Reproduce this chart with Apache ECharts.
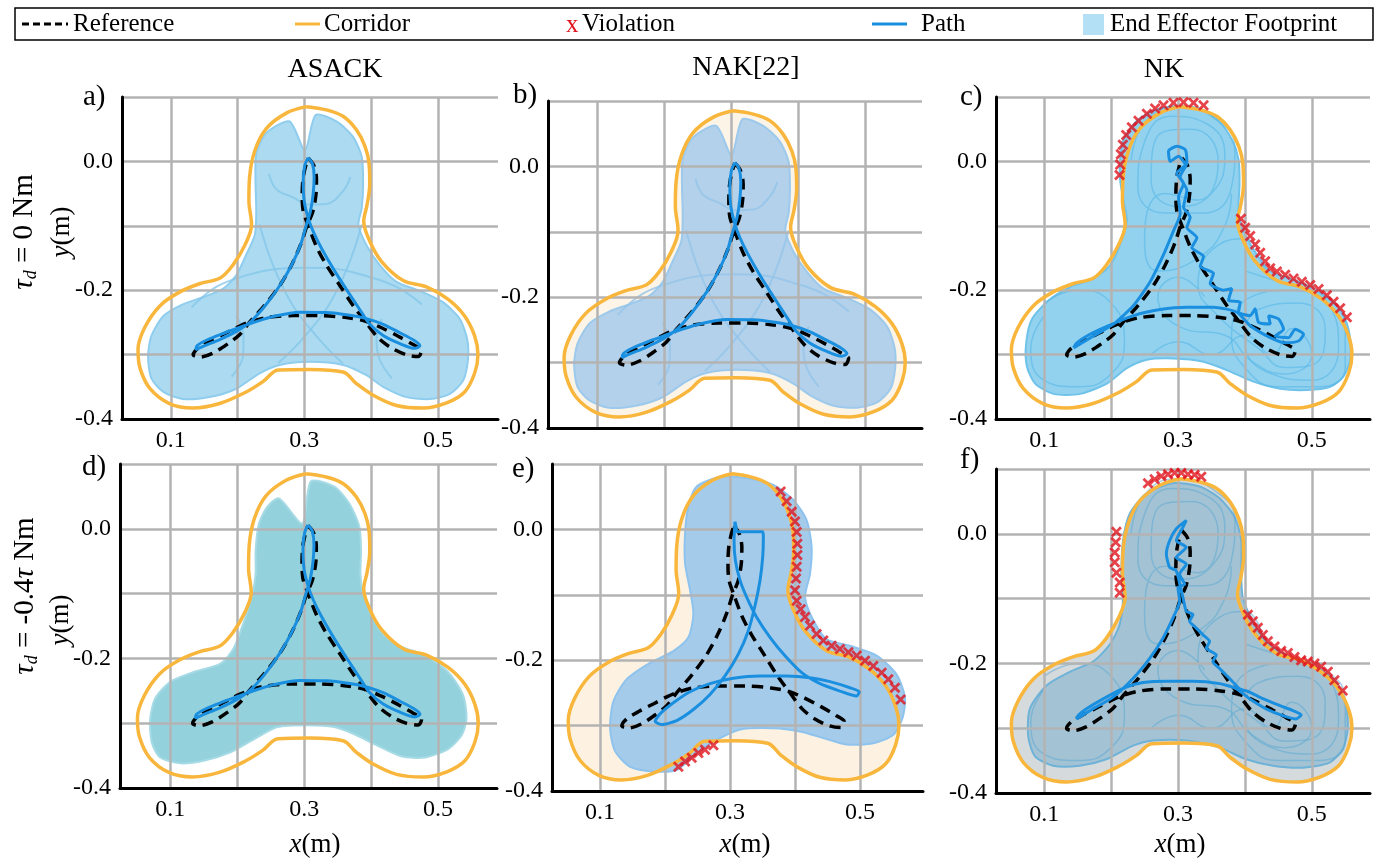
<!DOCTYPE html>
<html>
<head>
<meta charset="utf-8">
<script src="https://cdn.jsdelivr.net/npm/echarts@6/dist/echarts.min.js"></script>
<style>
  html, body { margin: 0; padding: 0; background: #fff; }
  #chart { width: 1380px; height: 858px; }
</style>
</head>
<body>
<div id="chart"></div>
<script>
// ---- data (metres) ----
var corridor = [
  [0.303,0.085],[0.333,0.080],[0.358,0.070],[0.378,0.049],[0.391,0.023],[0.397,-0.004],
  [0.398,-0.035],[0.394,-0.067],[0.389,-0.093],[0.398,-0.124],[0.416,-0.156],[0.448,-0.185],
  [0.483,-0.195],[0.515,-0.214],[0.540,-0.240],[0.555,-0.271],[0.560,-0.300],[0.555,-0.329],
  [0.540,-0.358],[0.513,-0.375],[0.478,-0.383],[0.438,-0.379],[0.403,-0.363],[0.378,-0.345],
  [0.358,-0.327],[0.308,-0.323],[0.261,-0.324],[0.238,-0.342],[0.213,-0.358],[0.173,-0.376],
  [0.133,-0.383],[0.098,-0.376],[0.069,-0.353],[0.054,-0.321],[0.051,-0.292],[0.061,-0.258],
  [0.084,-0.224],[0.113,-0.203],[0.143,-0.190],[0.174,-0.181],[0.193,-0.161],[0.211,-0.130],
  [0.221,-0.098],[0.217,-0.061],[0.218,-0.025],[0.226,0.017],[0.243,0.051],[0.273,0.075],
  [0.303,0.085]
];

var reference = [
  [0.3057,0.0052],[0.3142,-0.0063],[0.3182,-0.0273],[0.3172,-0.0535],[0.3122,-0.0798],
  [0.3042,-0.0992],[0.2943,-0.1297],[0.2808,-0.1612],[0.2633,-0.1927],[0.2408,-0.2231],
  [0.2183,-0.2493],[0.2034,-0.2688],[0.1859,-0.2829],[0.1634,-0.2976],[0.1434,-0.3039],
  [0.1335,-0.3003],[0.1409,-0.2898],[0.1609,-0.2777],[0.1834,-0.2661],[0.2034,-0.2556],
  [0.2183,-0.2493],[0.2433,-0.2425],[0.2833,-0.2394],[0.3232,-0.2394],[0.3632,-0.2425],
  [0.3906,-0.2478],[0.4156,-0.2583],[0.4406,-0.2714],[0.4630,-0.2845],[0.4755,-0.2934],
  [0.4705,-0.3029],[0.4531,-0.3003],[0.4306,-0.2898],[0.4106,-0.2740],[0.3906,-0.2478],
  [0.3732,-0.2241],[0.3532,-0.1927],[0.3332,-0.1612],[0.3182,-0.1323],[0.3057,-0.0992],
  [0.2983,-0.0772],[0.2968,-0.0509],[0.2983,-0.0247],[0.3022,-0.0063],[0.3057,0.0052]
];

// path of the well-behaved controllers (a, b, d)
var pathGood = [
  [0.3057,0.0058],[0.3122,-0.0037],[0.3147,-0.0247],[0.3132,-0.0509],[0.3092,-0.0772],
  [0.3032,-0.0982],[0.2943,-0.1297],[0.2808,-0.1612],[0.2633,-0.1927],[0.2433,-0.2215],
  [0.2208,-0.2478],[0.1984,-0.2640],[0.1734,-0.2766],[0.1484,-0.2871],[0.1375,-0.2924],
  [0.1395,-0.2861],[0.1534,-0.2777],[0.1784,-0.2672],[0.2034,-0.2577],[0.2233,-0.2504],
  [0.2533,-0.2409],[0.2933,-0.2341],[0.3332,-0.2346],[0.3682,-0.2388],[0.3931,-0.2441],
  [0.4181,-0.2530],[0.4431,-0.2661],[0.4640,-0.2777],[0.4730,-0.2861],[0.4655,-0.2903],
  [0.4431,-0.2829],[0.4181,-0.2703],[0.3981,-0.2530],[0.3832,-0.2304],[0.3632,-0.1990],
  [0.3432,-0.1664],[0.3257,-0.1349],[0.3132,-0.1087],[0.3057,-0.0877],[0.2998,-0.0614],
  [0.2983,-0.0299],[0.3007,-0.0063],[0.3057,0.0058]
];

var pathC = [
  [0.1438,-0.2895],[0.1737,-0.2711],[0.2036,-0.2526],[0.2335,-0.2237],[0.2584,-0.1868],
  [0.2784,-0.1447],[0.2933,-0.1079],[0.3033,-0.0816],[0.3008,-0.0553],[0.3083,-0.0342],
  [0.2983,-0.0184],[0.3108,-0.0053],[0.3008,0.0079],[0.2883,0.0000],[0.2858,0.0158],
  [0.2983,0.0237],[0.3108,0.0184],[0.3133,-0.0026],[0.3033,-0.0237],[0.3133,-0.0447],
  [0.3083,-0.0711],[0.3182,-0.0868],[0.3133,-0.1026],[0.3282,-0.1184],[0.3207,-0.1342],
  [0.3382,-0.1474],[0.3332,-0.1632],[0.3531,-0.1737],[0.3481,-0.1895],[0.3681,-0.2000],
  [0.3806,-0.1974],[0.3756,-0.2158],[0.3930,-0.2184],[0.3905,-0.2342],[0.4080,-0.2395],
  [0.4154,-0.2289],[0.4204,-0.2500],[0.4379,-0.2526],[0.4354,-0.2395],[0.4503,-0.2447],
  [0.4578,-0.2605],[0.4453,-0.2711],[0.4653,-0.2737],[0.4752,-0.2605],[0.4877,-0.2684],
  [0.4802,-0.2789],[0.4603,-0.2816],[0.4379,-0.2737],[0.4080,-0.2553],[0.3880,-0.2342],
  [0.3531,-0.2263],[0.3133,-0.2263],[0.2734,-0.2300],[0.2335,-0.2395],[0.1937,-0.2563],
  [0.1638,-0.2711],[0.1488,-0.2816],[0.1438,-0.2895]
];

var pathE = [
  [0.3077,0.0118],[0.3062,-0.0164],[0.3082,-0.0472],[0.3154,-0.0779],[0.3256,-0.1036],
  [0.3410,-0.1344],[0.3615,-0.1651],[0.3846,-0.1933],[0.4103,-0.2190],[0.4385,-0.2359],
  [0.4692,-0.2472],[0.4949,-0.2549],[0.4990,-0.2482],[0.4846,-0.2421],[0.4538,-0.2328],
  [0.4231,-0.2267],[0.3872,-0.2241],[0.3462,-0.2241],[0.3051,-0.2277],[0.2692,-0.2359],
  [0.2385,-0.2482],[0.2128,-0.2651],[0.1923,-0.2821],[0.1846,-0.2933],[0.1949,-0.2985],
  [0.2179,-0.2923],[0.2436,-0.2754],[0.2692,-0.2523],[0.2923,-0.2241],[0.3128,-0.1908],
  [0.3282,-0.1549],[0.3385,-0.1164],[0.3462,-0.0779],[0.3503,-0.0421],[0.3513,-0.0113],
  [0.3503,-0.0036],[0.3256,-0.0036],[0.3113,-0.0036],[0.3092,0.0041],[0.3077,0.0118]
];

var pathF = [
  [0.1483,-0.2857],[0.1731,-0.2701],[0.2030,-0.2520],[0.2328,-0.2234],[0.2577,-0.1922],
  [0.2776,-0.1610],[0.2925,-0.1299],[0.3025,-0.1039],[0.3000,-0.0831],[0.3099,-0.0779],
  [0.3025,-0.0623],[0.3124,-0.0468],[0.2975,-0.0364],[0.3124,-0.0208],[0.2975,-0.0104],
  [0.3075,0.0104],[0.3124,0.0208],[0.2975,0.0078],[0.2876,-0.0104],[0.2826,-0.0312],
  [0.2876,-0.0519],[0.2975,-0.0571],[0.3075,-0.0987],[0.3124,-0.1195],[0.3224,-0.1247],
  [0.3174,-0.1351],[0.3274,-0.1455],[0.3373,-0.1558],[0.3473,-0.1662],[0.3423,-0.1766],
  [0.3572,-0.1870],[0.3522,-0.1974],[0.3622,-0.2078],[0.3721,-0.2182],[0.3821,-0.2286],
  [0.3920,-0.2390],[0.4070,-0.2442],[0.4269,-0.2545],[0.4517,-0.2649],[0.4716,-0.2727],
  [0.4841,-0.2795],[0.4766,-0.2857],[0.4567,-0.2805],[0.4318,-0.2701],[0.4070,-0.2545],
  [0.3871,-0.2390],[0.3622,-0.2312],[0.3224,-0.2275],[0.2826,-0.2275],[0.2478,-0.2296],
  [0.2229,-0.2364],[0.1930,-0.2520],[0.1632,-0.2701],[0.1507,-0.2805],[0.1483,-0.2857]
];

// end effector footprints
var footGood = [
  [0.278,0.062],[0.301,0.017],[0.317,0.072],[0.348,0.062],[0.373,0.038],[0.386,0.007],
  [0.388,-0.035],[0.386,-0.072],[0.381,-0.098],[0.393,-0.130],[0.413,-0.161],[0.438,-0.187],
  [0.473,-0.201],[0.508,-0.219],[0.533,-0.245],[0.544,-0.277],[0.545,-0.308],[0.538,-0.340],
  [0.518,-0.361],[0.488,-0.369],[0.453,-0.366],[0.418,-0.350],[0.393,-0.332],[0.358,-0.316],
  [0.308,-0.311],[0.263,-0.316],[0.233,-0.329],[0.198,-0.353],[0.158,-0.366],[0.118,-0.369],
  [0.089,-0.358],[0.071,-0.337],[0.066,-0.303],[0.071,-0.271],[0.089,-0.240],[0.118,-0.222],
  [0.148,-0.211],[0.178,-0.198],[0.198,-0.177],[0.213,-0.145],[0.226,-0.114],[0.228,-0.077],
  [0.227,-0.035],[0.228,0.012],[0.243,0.044]
];

var footD = [
  [0.2625,0.047],[0.2975,0.008],[0.310,0.073],[0.345,0.065],[0.3675,0.039],[0.3825,0.003],
  [0.385,-0.034],[0.384,-0.070],[0.3875,-0.096],[0.400,-0.132],[0.420,-0.164],[0.445,-0.182],
  [0.480,-0.195],[0.515,-0.221],[0.5375,-0.257],[0.5425,-0.294],[0.535,-0.319],[0.515,-0.340],
  [0.480,-0.353],[0.445,-0.351],[0.410,-0.335],[0.375,-0.317],[0.345,-0.306],[0.305,-0.303],
  [0.260,-0.306],[0.225,-0.325],[0.190,-0.345],[0.150,-0.358],[0.115,-0.362],[0.085,-0.353],
  [0.0725,-0.330],[0.070,-0.294],[0.0775,-0.262],[0.100,-0.236],[0.135,-0.221],[0.175,-0.208],
  [0.195,-0.184],[0.210,-0.143],[0.2225,-0.101],[0.2275,-0.070],[0.2275,-0.034],[0.2325,0.008],
  [0.245,0.034]
];

var footC = [
  [0.2136,-0.029],[0.2136,0.003],[0.2186,0.034],[0.2385,0.063],[0.2634,0.079],[0.2983,0.086],
  [0.3332,0.082],[0.3606,0.063],[0.3805,0.034],[0.3905,0.003],[0.3920,-0.034],[0.3905,-0.082],
  [0.4004,-0.113],[0.4179,-0.145],[0.4378,-0.171],[0.4677,-0.182],[0.5026,-0.197],[0.5325,-0.218],
  [0.5499,-0.245],[0.5574,-0.276],[0.5574,-0.308],[0.5474,-0.334],[0.5275,-0.350],[0.4926,-0.355],
  [0.4528,-0.353],[0.4129,-0.342],[0.3730,-0.324],[0.3382,-0.311],[0.2933,-0.306],[0.2535,-0.308],
  [0.2236,-0.321],[0.1937,-0.345],[0.1538,-0.361],[0.1140,-0.361],[0.0865,-0.345],[0.0741,-0.318],
  [0.0731,-0.282],[0.0816,-0.245],[0.1065,-0.216],[0.1389,-0.195],[0.1737,-0.182],[0.1987,-0.161],
  [0.2136,-0.129],[0.2236,-0.092],[0.2186,-0.061]
];

var footE = [
  [0.2487,0.0656],[0.2846,0.080],[0.3256,0.0785],[0.3667,0.068],[0.3974,0.045],[0.4179,0.014],
  [0.4256,-0.027],[0.4231,-0.068],[0.4154,-0.104],[0.4282,-0.139],[0.4487,-0.168],[0.4846,-0.178],
  [0.5256,-0.193],[0.5564,-0.222],[0.5692,-0.257],[0.5656,-0.288],[0.5513,-0.314],[0.5205,-0.327],
  [0.4795,-0.329],[0.4436,-0.319],[0.4077,-0.309],[0.3667,-0.304],[0.3154,-0.306],[0.2795,-0.322],
  [0.2487,-0.342],[0.2179,-0.368],[0.1821,-0.370],[0.1462,-0.363],[0.1231,-0.339],[0.1154,-0.304],
  [0.1205,-0.263],[0.1410,-0.229],[0.1769,-0.204],[0.2128,-0.186],[0.2359,-0.165],[0.2436,-0.129],
  [0.2385,-0.093],[0.2308,-0.052],[0.2308,-0.006],[0.2359,0.035]
];

var footF = [
  [0.2179,-0.0987],[0.2154,-0.062],[0.2179,-0.010],[0.2279,0.031],[0.2527,0.062],[0.2925,0.078],
  [0.3323,0.073],[0.3622,0.055],[0.3846,0.026],[0.3945,-0.010],[0.3945,-0.062],[0.3970,-0.099],
  [0.4119,-0.135],[0.4318,-0.166],[0.4617,-0.187],[0.5015,-0.203],[0.5363,-0.229],[0.5512,-0.265],
  [0.5537,-0.301],[0.5463,-0.332],[0.5264,-0.353],[0.4866,-0.361],[0.4418,-0.358],[0.4020,-0.348],
  [0.3622,-0.330],[0.3124,-0.319],[0.2627,-0.319],[0.2328,-0.327],[0.1930,-0.348],[0.1532,-0.358],
  [0.1134,-0.358],[0.0861,-0.343],[0.0761,-0.312],[0.0786,-0.270],[0.1035,-0.234],[0.1383,-0.213],
  [0.1731,-0.197],[0.1980,-0.171],[0.2129,-0.140]
];

// faint inner edges of the footprint (a, b)
var footEdges = [
  [[0.131,-0.227],[0.168,-0.195],[0.213,-0.177],[0.258,-0.167],[0.303,-0.165],[0.348,-0.167],[0.393,-0.178],[0.438,-0.195],[0.476,-0.222]],
  [[0.198,-0.240],[0.209,-0.271],[0.208,-0.303],[0.191,-0.334]],
  [[0.416,-0.245],[0.408,-0.277],[0.413,-0.308],[0.431,-0.337]],
  [[0.247,-0.019],[0.258,-0.043],[0.283,-0.056],[0.306,-0.067],[0.333,-0.066],[0.358,-0.046],[0.369,-0.024]],
  [[0.233,-0.098],[0.253,-0.161],[0.283,-0.224],[0.323,-0.277],[0.358,-0.314]],
  [[0.386,-0.098],[0.366,-0.161],[0.336,-0.224],[0.296,-0.277],[0.261,-0.313]]
];

// scribbled footprint traces of the NK runs (c, f)
var scribbles = [
  [[0.23,0.00],[0.25,0.06],[0.30,0.085],[0.35,0.07],[0.385,0.02],[0.38,-0.04],[0.34,-0.08],[0.28,-0.08],
   [0.24,-0.04],[0.25,0.03],[0.29,0.07],[0.34,0.06],[0.37,0.01],[0.35,-0.05],[0.30,-0.07],[0.26,-0.03],
   [0.27,0.04],[0.32,0.05],[0.36,0.00],[0.33,-0.06],[0.28,-0.05],[0.25,-0.12],[0.27,-0.17],[0.33,-0.15],
   [0.37,-0.10],[0.38,-0.05]],
  [[0.40,-0.17],[0.46,-0.19],[0.52,-0.21],[0.55,-0.26],[0.55,-0.32],[0.51,-0.35],[0.45,-0.35],[0.40,-0.32],
   [0.38,-0.27],[0.41,-0.21],[0.47,-0.20],[0.53,-0.23],[0.54,-0.29],[0.50,-0.34],[0.44,-0.33],[0.40,-0.28],
   [0.42,-0.23],[0.48,-0.22],[0.52,-0.26],[0.51,-0.31],[0.46,-0.32],[0.42,-0.29],[0.36,-0.24],[0.33,-0.19],
   [0.36,-0.13],[0.40,-0.12],[0.43,-0.17]],
  [[0.10,-0.22],[0.15,-0.20],[0.20,-0.22],[0.22,-0.28],[0.20,-0.33],[0.15,-0.35],[0.10,-0.34],[0.08,-0.29],
   [0.10,-0.24]],
  [[0.26,-0.30],[0.30,-0.28],[0.35,-0.30],[0.40,-0.27],[0.44,-0.30],[0.47,-0.26],[0.50,-0.30],[0.46,-0.33],
   [0.41,-0.31],[0.37,-0.27],[0.31,-0.26],[0.27,-0.21],[0.30,-0.18],[0.34,-0.21]]
];

// corridor violations
var violC = [
  [0.2126,-0.021],[0.2136,-0.005],[0.2146,0.011],[0.2176,0.026],[0.2226,0.041],[0.2310,0.053],
  [0.2410,0.063],[0.2535,0.074],[0.2659,0.082],[0.2784,0.087],[0.2933,0.091],[0.3083,0.092],
  [0.3232,0.091],[0.3382,0.087],
  [0.3940,-0.089],[0.4004,-0.103],[0.4079,-0.116],[0.4154,-0.129],[0.4229,-0.142],[0.4303,-0.155],
  [0.4378,-0.166],[0.4478,-0.171],[0.4602,-0.176],[0.4727,-0.182],[0.4851,-0.187],[0.4976,-0.192],
  [0.5101,-0.198],[0.5225,-0.208],[0.5325,-0.218],[0.5424,-0.228],[0.5524,-0.242]
];
var violE = [
  [0.3779,0.058],[0.3872,0.043],[0.3949,0.027],[0.4000,0.012],[0.4026,-0.004],[0.4036,-0.022],
  [0.4036,-0.039],[0.4026,-0.057],[0.4015,-0.075],[0.4000,-0.093],[0.4026,-0.109],[0.4087,-0.122],
  [0.4154,-0.134],[0.4231,-0.147],[0.4333,-0.160],[0.4436,-0.170],[0.4564,-0.178],[0.4692,-0.183],
  [0.4821,-0.188],[0.4949,-0.193],[0.5077,-0.201],[0.5205,-0.209],[0.5333,-0.219],[0.5436,-0.229],
  [0.5538,-0.242],[0.5626,-0.260],
  [0.2205,-0.363],[0.2308,-0.355],[0.2410,-0.349],[0.2513,-0.342],[0.2615,-0.337],[0.2744,-0.330]
];
var violF = [
  [0.2552,0.078],[0.2652,0.084],[0.2751,0.089],[0.2851,0.092],[0.2950,0.094],[0.3050,0.094],
  [0.3149,0.092],[0.3249,0.091],[0.3348,0.088],
  [0.2080,0.003],[0.2070,-0.013],[0.2055,-0.029],[0.2055,-0.044],[0.2080,-0.060],[0.2129,-0.075],
  [0.2129,-0.091],
  [0.4045,-0.125],[0.4119,-0.135],[0.4194,-0.145],[0.4269,-0.156],[0.4343,-0.166],[0.4443,-0.174],
  [0.4542,-0.181],[0.4642,-0.184],[0.4741,-0.190],[0.4841,-0.195],[0.4940,-0.197],[0.5040,-0.200],
  [0.5139,-0.205],[0.5239,-0.213],[0.5338,-0.226],[0.5463,-0.242]
];

var xGridValues = [0.1, 0.2, 0.3, 0.4, 0.5];
var xLabelValues = [0.1, 0.3, 0.5];

// ---- layout / styling per panel ----
var SERIF = 'Liberation Serif';
var ORANGE = '#f9b63c', BLUE = '#1b8fdf', RED = '#e0141e';
var XCROSS = 'path://M0,1.8L1.8,0L5,3.2L8.2,0L10,1.8L6.8,5L10,8.2L8.2,10L5,6.8L1.8,10L0,8.2L3.2,5Z';

var panels = [
  {rect:[122,97,376,322], x:[0.027,0.590], showX:true, foot:footGood, footFill:'#acdbf1', footStroke:'#8fcdee', edges:'#86c7ea', scrib:null, corrFill:null, path:pathGood, viol:null},
  {rect:[548,101,374,327], x:[0.027,0.585], showX:false, foot:footGood, footFill:'#b3d1ea', footStroke:'#9cc9ec', edges:'#95c4ea', scrib:null, corrFill:'#fdf4e8', path:pathGood, viol:null},
  {rect:[996,97,374,322], x:[0.028,0.587], showX:true, foot:footC, footFill:'#93d2ef', footStroke:'#6fc2ea', edges:null, scrib:'#52b5e6', corrFill:null, path:pathC, viol:violC},
  {rect:[120,464,377,324], x:[0.025,0.588], showX:true, foot:footD, footFill:'#93d2dd', footStroke:'#a6dbe6', edges:null, scrib:null, corrFill:null, path:pathGood, viol:null},
  {rect:[552,464,371,327], x:[0.026,0.597], showX:true, foot:footE, footFill:'#a5cbeb', footStroke:'#8ec3ee', edges:'#8cc0ea', scrib:null, corrFill:'#fdf2e2', path:pathE, viol:violE},
  {rect:[996,469,374,324], x:[0.028,0.587], showX:true, foot:footF, footFill:'#a3c3d5', footStroke:'#6eb2d8', edges:null, scrib:'#5ea9d0', corrFill:'#d5dadd', path:pathF, viol:violF}
];

function polygonSeries(i, pts, fill, stroke, z, smooth) {
  return {
    type: 'custom', xAxisIndex: i, yAxisIndex: i, z: z, silent: true,
    data: [pts[0]],
    renderItem: function (params, api) {
      return {
        type: 'polygon',
        shape: { points: pts.map(function (p) { return api.coord(p); }), smooth: smooth || 0 },
        style: { fill: fill, stroke: stroke || null, lineWidth: 2 }
      };
    }
  };
}
function lineSeries(i, pts, color, width, type, z, opacity, smooth) {
  return {
    type: 'line', xAxisIndex: i, yAxisIndex: i, data: pts, z: z, silent: true,
    symbol: 'none', showSymbol: false, smooth: smooth || false,
    lineStyle: { color: color, width: width, type: type || 'solid', opacity: opacity == null ? 1 : opacity }
  };
}

var grids = [], xAxes = [], yAxes = [], series = [];
panels.forEach(function (p, i) {
  grids.push({ left: p.rect[0], top: p.rect[1], width: p.rect[2], height: p.rect[3] });
  xAxes.push({
    gridIndex: i, type: 'value', min: p.x[0], max: p.x[1], z: 3,
    axisLine: { show: true, onZero: false, lineStyle: { color: '#000', width: 3 } },
    axisTick: { show: false, customValues: xGridValues },
    axisLabel: { show: p.showX, customValues: xLabelValues, margin: 10, color: '#000',
      fontFamily: SERIF, fontSize: 24, formatter: function (v) { return v.toFixed(1); } },
    splitLine: { show: true, lineStyle: { color: '#b3b3b3', width: 2.5 } }
  });
  yAxes.push({
    gridIndex: i, type: 'value', min: -0.4, max: 0.1, interval: 0.1, z: 3,
    axisLine: { show: true, onZero: false, lineStyle: { color: '#000', width: 3 } },
    axisTick: { show: false },
    axisLabel: { margin: 9, color: '#000', fontFamily: SERIF, fontSize: 24,
      formatter: function (v) {
        var r = Math.round(v * 10);
        if (r % 2 !== 0) return '';
        return r === 0 ? '0.0' : (r / 10).toFixed(1);
      } },
    splitLine: { show: true, lineStyle: { color: '#b3b3b3', width: 2.5 } }
  });
  if (p.corrFill) series.push(polygonSeries(i, corridor, p.corrFill, null, 1, 0.35));
  series.push(polygonSeries(i, p.foot, p.footFill, p.footStroke, 2, 0.25));
  if (p.edges && p.foot === footGood) {
    footEdges.forEach(function (e) { series.push(lineSeries(i, e, p.edges, 2, 'solid', 2, 0.8, 0.4)); });
  }
  if (p.scrib) {
    scribbles.forEach(function (s) { series.push(lineSeries(i, s, p.scrib, 1.5, 'solid', 2, 0.55, 0.5)); });
  }
  series.push(lineSeries(i, corridor, ORANGE, 3.5, 'solid', 5, 1, 0.35));
  series.push(lineSeries(i, reference, '#000', 3.5, [11, 7], 6, 1, 0.3));
  series.push(lineSeries(i, p.path, BLUE, 3, 'solid', 7, 1, p.path === pathGood ? 0.3 : 0.2));
  if (p.viol) {
    series.push({
      type: 'scatter', xAxisIndex: i, yAxisIndex: i, data: p.viol, z: 8, silent: true,
      symbol: XCROSS, symbolSize: 11, itemStyle: { color: RED }
    });
  }
});

// ---- texts ----
function txt(x, y, text, size, opts) {
  opts = opts || {};
  return {
    type: 'text', x: x, y: y, rotation: opts.rot || 0, z: 20, silent: true,
    style: {
      text: text, fill: opts.color || '#000', fontFamily: SERIF, fontSize: size,
      fontStyle: opts.italic ? 'italic' : 'normal',
      align: opts.align || 'center', verticalAlign: 'middle', rich: opts.rich
    }
  };
}
var mathRich = {
  i: { fontFamily: SERIF, fontStyle: 'italic', fontSize: 27 },
  n: { fontFamily: SERIF, fontSize: 27 }
};
var tauRich = {
  i: { fontFamily: SERIF, fontStyle: 'italic', fontSize: 29 },
  s: { fontFamily: SERIF, fontStyle: 'italic', fontSize: 18, padding: [14, 0, 0, 0] },
  n: { fontFamily: SERIF, fontSize: 29 }
};

var graphics = [
  { type: 'rect', shape: { x: 15, y: 8, width: 1358, height: 32 }, style: { fill: 'none', stroke: '#000', lineWidth: 1.5 }, z: 20, silent: true },
  { type: 'line', shape: { x1: 22, y1: 24, x2: 68, y2: 24 }, style: { stroke: '#000', lineWidth: 3, lineDash: [7, 4] }, z: 20, silent: true },
  txt(73, 24, 'Reference', 25, { align: 'left' }),
  { type: 'line', shape: { x1: 295, y1: 24, x2: 320, y2: 24 }, style: { stroke: ORANGE, lineWidth: 3 }, z: 20, silent: true },
  txt(324, 24, 'Corridor', 25, { align: 'left' }),
  txt(566, 25, 'x', 25, { align: 'left', color: RED }),
  txt(582, 24, 'Violation', 25, { align: 'left' }),
  { type: 'line', shape: { x1: 872, y1: 24, x2: 907, y2: 24 }, style: { stroke: BLUE, lineWidth: 3 }, z: 20, silent: true },
  txt(921, 24, 'Path', 25, { align: 'left' }),
  { type: 'rect', shape: { x: 1083, y: 14, width: 21, height: 21 }, style: { fill: '#b3e0f5' }, z: 20, silent: true },
  txt(1110, 24, 'End Effector Footprint', 25, { align: 'left' }),

  txt(335, 70, 'ASACK', 28),
  txt(746, 68, 'NAK[22]', 28),
  txt(1164, 70, 'NK', 28),

  txt(83, 97, 'a)', 29, { align: 'left' }),
  txt(513, 95, 'b)', 29, { align: 'left' }),
  txt(960, 97, 'c)', 29, { align: 'left' }),
  txt(82, 467, 'd)', 29, { align: 'left' }),
  txt(512, 469, 'e)', 29, { align: 'left' }),
  txt(960, 460, 'f)', 29, { align: 'left' }),

  txt(24, 232, '{i|τ}{s|d}{n| = 0 Nm}', 29, { rot: Math.PI / 2, rich: tauRich }),
  txt(62, 232, '{i|y}{n|(m)}', 27, { rot: Math.PI / 2, rich: mathRich }),
  txt(25, 596, '{i|τ}{s|d}{n| = -0.4}{i|τ}{n| Nm}', 29, { rot: Math.PI / 2, rich: tauRich }),
  txt(61, 620, '{i|y}{n|(m)}', 27, { rot: Math.PI / 2, rich: mathRich }),

  txt(315, 845, '{i|x}{n|(m)}', 27, { rich: mathRich }),
  txt(745, 845, '{i|x}{n|(m)}', 27, { rich: mathRich }),
  txt(1180, 845, '{i|x}{n|(m)}', 27, { rich: mathRich })
];

var chart = echarts.init(document.getElementById('chart'));
chart.setOption({
  animation: false,
  backgroundColor: '#fff',
  grid: grids,
  xAxis: xAxes,
  yAxis: yAxes,
  series: series,
  graphic: graphics
});
</script>
</body>
</html>
